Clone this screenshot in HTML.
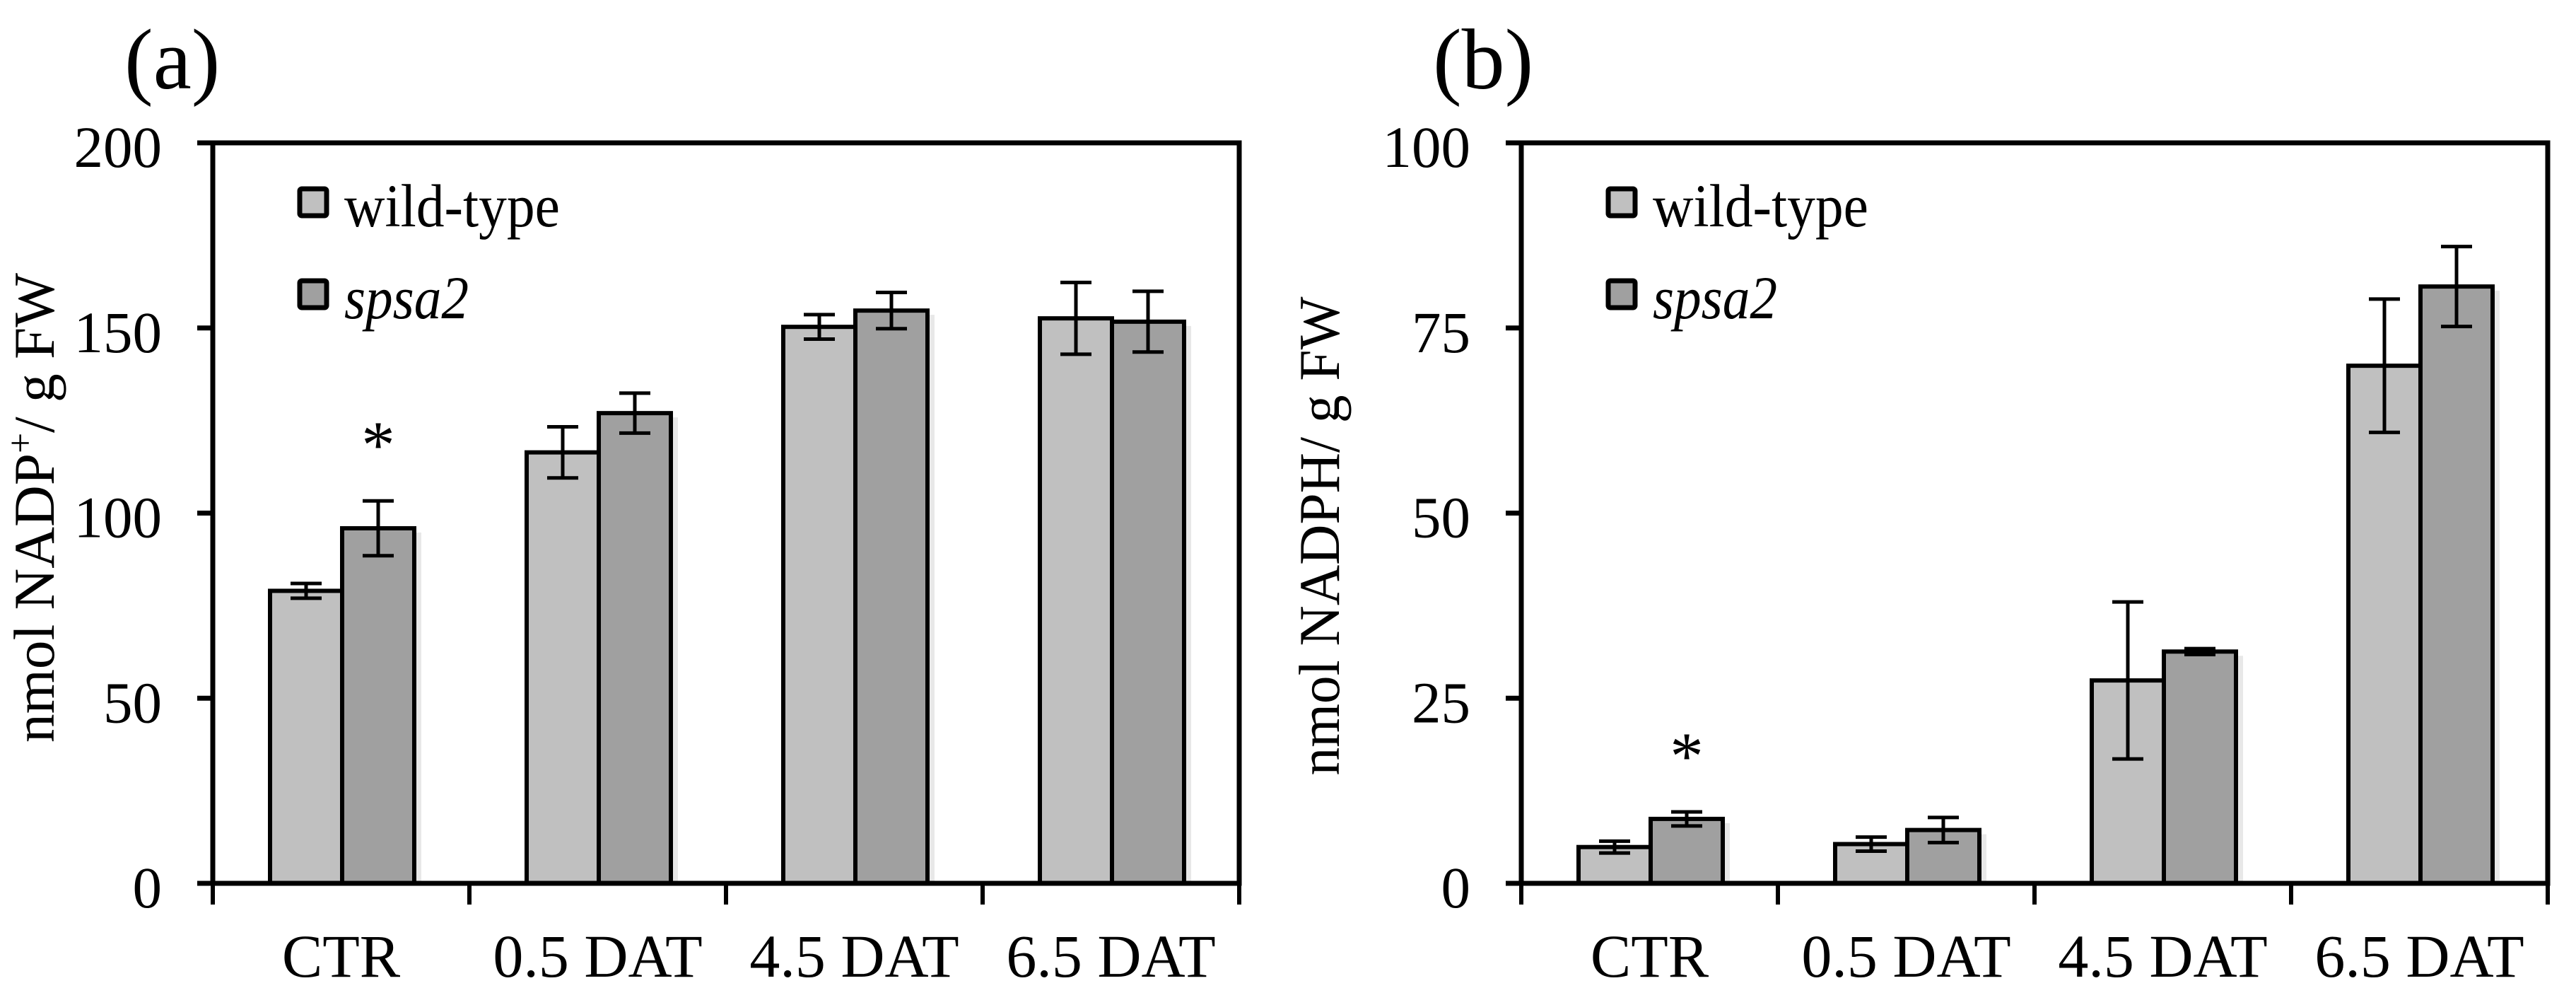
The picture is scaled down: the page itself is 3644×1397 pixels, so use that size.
<!DOCTYPE html>
<html><head><meta charset="utf-8"><style>
html,body{margin:0;padding:0;background:#fff;}
svg{display:block;font-family:"Liberation Serif","Times New Roman",serif;}
</style></head><body>
<svg id="chart" width="3644" height="1397" viewBox="0 0 3644 1397" xmlns="http://www.w3.org/2000/svg"></svg>
<script>
const categories = ["CTR", "0.5 DAT", "4.5 DAT", "6.5 DAT"];
const seriesNames = ["wild-type", "spsa2"];
const aWild = [79, 116.4, 150.3, 152.6];
const aWildErr = [2, 6.9, 3.3, 9.7];
const aMut = [95.9, 127, 154.7, 151.7];
const aMutErr = [7.4, 5.4, 4.9, 8.2];
const aTicks = [0, 50, 100, 150, 200];
const bWild = [4.9, 5.3, 27.4, 69.9];
const bWildErr = [0.8, 0.95, 10.6, 9.0];
const bMut = [8.7, 7.2, 31.3, 80.6];
const bMutErr = [0.95, 1.7, 0.4, 5.4];
const bTicks = [0, 25, 50, 75, 100];
const aStars = [1, 0, 0, 0];
const bStars = [1, 0, 0, 0];

const NS = "http://www.w3.org/2000/svg";
const svg = document.getElementById("chart");
function mk(tag, attrs, parent, text) {
  const e = document.createElementNS(NS, tag);
  for (const k in attrs) e.setAttribute(k, attrs[k]);
  if (text !== undefined) e.textContent = text;
  (parent || svg).appendChild(e);
  return e;
}

function panel(id, x0, letter, ytitle, titleSup, ticks, wild, wildErr, mut, mutErr, stars, titleX, titleY, titleLen) {
  const g = mk("g", {});
  
  
  const top = 202, bot = 1249, w = 1452;
  const ymax = ticks[ticks.length - 1];
  const Y = v => bot - (v / ymax) * (bot - top);
  const catW = w / categories.length;
  const X = i => x0 + i * catW;
  const barW = 102, off = 81;

  const lab = mk("text", {x: x0 - 125, y: 125, "font-size": 122}, g, letter);
  
  

  for (let i = 0; i < categories.length; i++) {
    const vals = [wild[i], mut[i]], errs = [wildErr[i], mutErr[i]];
    const fills = ["#c0c0c0", "#a0a0a0"];
    for (let s = 0; s < 2; s++) {
      const bx = X(i) + off + s * barW;
      const sh = mk("rect", {x: bx + barW, y: Y(vals[s]) + 6, width: 10, height: bot - Y(vals[s]) - 6, fill: "#e8e8e8"}, g);
      
      
      const r = mk("rect", {x: bx, y: Y(vals[s]), width: barW, height: bot - Y(vals[s]), fill: fills[s], stroke: "#000", "stroke-width": 6}, g);
      
      
    }
    for (let s = 0; s < 2; s++) {
      const cx = X(i) + off + s * barW + barW / 2;
      const y1 = Y(vals[s] + errs[s]), y2 = Y(vals[s] - errs[s]);
      const eg = mk("g", {stroke: "#000", "stroke-width": 5}, g);
      
      
      mk("line", {x1: cx, x2: cx, y1: y1, y2: y2}, eg);
      mk("line", {x1: cx - 22, x2: cx + 22, y1: y1, y2: y1}, eg);
      mk("line", {x1: cx - 22, x2: cx + 22, y1: y2, y2: y2}, eg);
    }
    if (stars[i]) {
      const cx = X(i) + off + barW * 1.5;
      const st = mk("text", {x: cx, y: Y(mut[i] + mutErr[i]) - 47, "font-size": 95, "text-anchor": "middle"}, g, "*");
      
      
    }
  }

  const fr = mk("rect", {x: x0, y: top, width: w, height: bot - top, fill: "none", stroke: "#000", "stroke-width": 7}, g);
  
  

  for (const t of ticks) {
    const tl = mk("line", {x1: x0 - 22, x2: x0, y1: Y(t), y2: Y(t), stroke: "#000", "stroke-width": 7}, g);
    
    
    const tt = mk("text", {x: x0 - 72, y: Y(t) + 34, "font-size": 83, "text-anchor": "end"}, g, String(t));
    
    
  }
  for (let i = 0; i <= categories.length; i++) {
    const xl = mk("line", {x1: X(i), x2: X(i), y1: bot, y2: bot + 30, stroke: "#000", "stroke-width": 6}, g);
    
    
  }
  for (let i = 0; i < categories.length; i++) {
    const ct = mk("text", {x: X(i) + catW / 2, y: 1381, "font-size": 86, "text-anchor": "middle"}, g, categories[i]);
    
    
  }
  const yt = mk("text", {x: 0, y: 0, "font-size": 82, "text-anchor": "middle", textLength: titleLen, lengthAdjust: "spacingAndGlyphs", transform: "translate(" + titleX + "," + titleY + ") rotate(-90)"}, g);
  
  
  mk("tspan", {}, yt, ytitle);
  if (titleSup) {
    mk("tspan", {"font-size": 52, dy: -30}, yt, titleSup);
    mk("tspan", {dy: 30}, yt, "/ g FW");
  }

  const fills = ["#c0c0c0", "#a0a0a0"];
  const lens = [305, 176];
  for (let s = 0; s < 2; s++) {
    const lg = mk("g", {}, g);
    
    
    const ly = 267 + s * 130;
    mk("rect", {x: x0 + 123, y: ly, width: 38, height: 38, rx: 3, fill: fills[s], stroke: "#000", "stroke-width": 7}, lg);
    mk("text", {x: x0 + 186, y: ly + 53, "font-size": 86, textLength: lens[s], lengthAdjust: "spacingAndGlyphs", "font-style": s ? "italic" : "normal"}, lg, seriesNames[s]);
  }
}

panel("a", 301, "(a)", "nmol NADP", "+", aTicks, aWild, aWildErr, aMut, aMutErr, aStars, 76, 718, 664);
panel("b", 2152, "(b)", "nmol NADPH/ g FW", "", bTicks, bWild, bWildErr, bMut, bMutErr, bStars, 1894, 758, 677);
</script>
</body></html>
